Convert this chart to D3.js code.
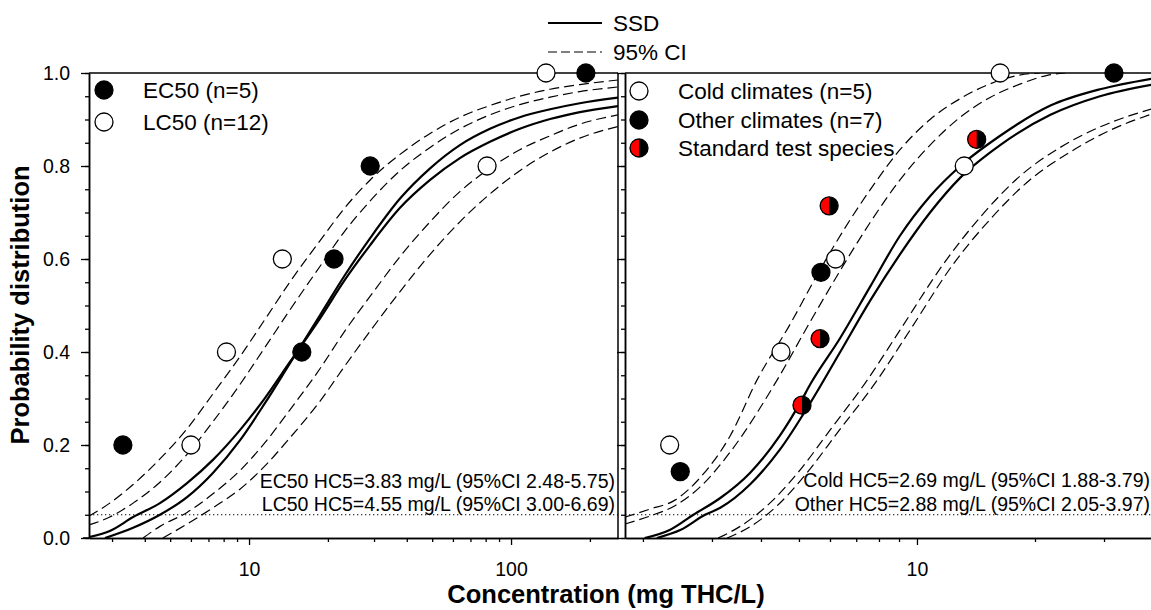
<!DOCTYPE html>
<html>
<head>
<meta charset="utf-8">
<script src="https://cdn.jsdelivr.net/npm/d3@7"></script>
<style>
body { margin: 0; background: #fff; }
text { font-family: "Liberation Sans", Arial, sans-serif; fill: #000; }
</style>
</head>
<body>
<svg id="chart" width="1151" height="610"></svg>
<script>
// ---- data (concentration mg/L, cumulative probability) ----
// left panel: EC50 vs LC50
var ec50Pts = [[3.3, 0.2], [15.9, 0.4], [21.1, 0.6], [29.0, 0.8], [193, 1.0]];
var lc50Pts = [[6.0, 0.2], [8.2, 0.4], [13.4, 0.6], [81, 0.8], [136, 1.0]];

var ec50SSD = [[2.45, 0.002], [2.94, 0.015], [3.61, 0.045], [4.57, 0.075], [5.8, 0.118], [7.28, 0.168],
  [9.23, 0.232], [11.5, 0.301], [14.3, 0.378], [18.7, 0.473], [23.2, 0.555], [29.0, 0.63], [37.7, 0.71],
  [49.1, 0.77], [63.8, 0.817], [83.1, 0.852], [108, 0.88], [141, 0.901], [183, 0.916], [256, 0.929]];
var lc50SSD = [[2.82, 0], [3.61, 0.022], [4.57, 0.05], [5.8, 0.088], [7.28, 0.14], [9.23, 0.21],
  [11.5, 0.29], [14.3, 0.375], [18.7, 0.48], [23.2, 0.565], [29.0, 0.645], [37.7, 0.73], [49.1, 0.795],
  [63.8, 0.845], [83.1, 0.88], [108, 0.905], [141, 0.922], [183, 0.935], [256, 0.947]];
var leftCiUpperA = [[2.45, 0.047], [2.94, 0.075], [3.61, 0.115], [4.57, 0.17], [5.8, 0.235], [7.28, 0.31],
  [9.23, 0.39], [11.5, 0.47], [14.3, 0.55], [18.7, 0.64], [23.2, 0.71], [29.0, 0.77], [37.7, 0.825],
  [49.1, 0.87], [63.8, 0.905], [83.1, 0.93], [108, 0.95], [141, 0.965], [183, 0.975], [256, 0.985]];
var leftCiUpperB = [[2.45, 0.028], [2.94, 0.045], [3.61, 0.075], [4.57, 0.12], [5.8, 0.18], [7.28, 0.25],
  [9.23, 0.33], [11.5, 0.41], [14.3, 0.49], [18.7, 0.585], [23.2, 0.66], [29.0, 0.725], [37.7, 0.79],
  [49.1, 0.84], [63.8, 0.88], [83.1, 0.91], [108, 0.932], [141, 0.948], [183, 0.96], [256, 0.97]];
var leftCiLowerA = [[3.94, 0], [4.57, 0.025], [5.8, 0.055], [7.28, 0.095], [9.23, 0.145], [11.5, 0.205],
  [14.3, 0.275], [18.7, 0.365], [23.2, 0.445], [29.0, 0.52], [37.7, 0.605], [49.1, 0.68], [63.8, 0.745],
  [83.1, 0.795], [108, 0.835], [141, 0.865], [183, 0.89], [256, 0.91]];
var leftCiLowerB = [[4.69, 0], [5.8, 0.03], [7.28, 0.065], [9.23, 0.105], [11.5, 0.155], [14.3, 0.215],
  [18.7, 0.295], [23.2, 0.37], [29.0, 0.445], [37.7, 0.53], [49.1, 0.61], [63.8, 0.68], [83.1, 0.74],
  [108, 0.79], [141, 0.83], [183, 0.86], [256, 0.885]];

// right panel: cold vs other climates
var coldPts = [[2.34, 0.2], [4.5, 0.4], [6.2, 0.6], [13.2, 0.8], [16.3, 1.0]];
var otherPts = [[2.49, 1 / 7], [5.09, 2 / 7], [5.66, 3 / 7], [5.69, 4 / 7], [5.97, 5 / 7], [14.2, 6 / 7], [31.8, 1.0]];
var standardSpecies = [false, true, true, false, true, true, false];

var coldSSD = [[2.02, 0], [2.34, 0.017], [2.69, 0.05], [3.15, 0.086], [3.75, 0.14], [4.47, 0.22],
  [5.03, 0.29], [5.34, 0.33], [6.37, 0.43], [7.59, 0.54], [9.05, 0.65], [10.8, 0.735], [12.9, 0.80],
  [16.3, 0.865], [21.9, 0.93], [29.3, 0.965], [39.8, 0.988]];
var otherSSD = [[2.17, 0], [2.49, 0.017], [2.88, 0.05], [3.15, 0.065], [3.75, 0.115], [4.47, 0.19],
  [5.34, 0.29], [6.37, 0.40], [7.59, 0.51], [9.05, 0.61], [10.8, 0.70], [12.9, 0.775], [16.3, 0.845],
  [21.9, 0.91], [29.3, 0.95], [39.8, 0.975]];
var rightCiUpperA = [[1.8, 0.045], [2.08, 0.062], [2.42, 0.082], [2.8, 0.13], [3.34, 0.22], [3.91, 0.34],
  [4.75, 0.46], [5.66, 0.577], [6.75, 0.684], [7.82, 0.764], [9.05, 0.835], [10.8, 0.9], [12.9, 0.945],
  [15.4, 0.977], [18.1, 0.995], [20.6, 1.0]];
var rightCiUpperB = [[1.8, 0.03], [2.08, 0.047], [2.42, 0.07], [2.8, 0.11], [3.34, 0.185], [4.4, 0.34],
  [5.34, 0.465], [6.37, 0.575], [7.59, 0.678], [9.05, 0.77], [10.8, 0.845], [12.9, 0.905], [15.4, 0.948],
  [18.3, 0.976], [21.5, 0.995], [23.9, 1.0]];
var rightCiLowerA = [[3.11, 0], [3.54, 0.025], [4.3, 0.082], [5.03, 0.146], [6.0, 0.232], [7.46, 0.339],
  [9.05, 0.447], [11.7, 0.59], [14.5, 0.69], [18.3, 0.778], [23.2, 0.84], [29.3, 0.884], [39.8, 0.923]];
var rightCiLowerB = [[3.28, 0], [3.75, 0.024], [4.42, 0.071], [5.18, 0.135], [6.29, 0.228], [7.91, 0.339],
  [9.6, 0.447], [12.4, 0.59], [15.4, 0.686], [19.4, 0.77], [24.6, 0.83], [31.1, 0.877], [39.8, 0.912]];

var leftMajor = [10, 100];
var leftMinor = [3, 4, 5, 6, 7, 8, 9, 20, 30, 40, 50, 60, 70, 80, 90, 200];
var rightMajor = [10];
var rightMinor = [2, 3, 4, 5, 6, 7, 8, 9, 20, 30];
var probTicks = [0, 0.2, 0.4, 0.6, 0.8, 1.0];
var probMinor = d3.range(0, 1.0001, 0.05);

var svg = d3.select("#chart");

var y = d3.scaleLinear().domain([0, 1]).range([538, 73]);
var xL = d3.scaleLog().domain([2.45, 256]).range([89, 618]);
var xR = d3.scaleLog().domain([1.8, 40]).range([625, 1153]);

var tickFont = "19.5px";

function drawPanel(x, id) {
    var r = x.range();
    var g = svg.append("g");
    g.append("clipPath").attr("id", id)
        .append("rect").attr("x", r[0]).attr("y", y(1)).attr("width", r[1] - r[0]).attr("height", y(0) - y(1));
    var inner = g.append("g").attr("clip-path", "url(#" + id + ")");
    // 5% line
    inner.append("line")
        .attr("x1", r[0]).attr("x2", r[1]).attr("y1", y(0.05)).attr("y2", y(0.05))
        .attr("stroke", "#000").attr("stroke-width", 1.2).attr("stroke-dasharray", "1.3,2.7");
    return {g: g, inner: inner};
}

var left = drawPanel(xL, "clipL");
var right = drawPanel(xR, "clipR");

function addCurve(panel, x, data, dashed) {
    var line = d3.line()
        .x(function(d) { return x(d[0]); })
        .y(function(d) { return y(d[1]); })
        .curve(d3.curveMonotoneX);
    panel.inner.append("path")
        .datum(data)
        .attr("d", line)
        .attr("fill", "none")
        .attr("stroke", "#000")
        .attr("stroke-width", dashed ? 1.2 : 2.2)
        .attr("stroke-dasharray", dashed ? "10,5" : null);
}

[leftCiUpperA, leftCiUpperB, leftCiLowerA, leftCiLowerB].forEach(function(c) { addCurve(left, xL, c, true); });
[ec50SSD, lc50SSD].forEach(function(c) { addCurve(left, xL, c, false); });
[rightCiUpperA, rightCiUpperB, rightCiLowerA, rightCiLowerB].forEach(function(c) { addCurve(right, xR, c, true); });
[coldSSD, otherSSD].forEach(function(c) { addCurve(right, xR, c, false); });

// frames
svg.append("line").attr("x1", 89).attr("x2", 618).attr("y1", y(1)).attr("y2", y(1)).attr("stroke", "#000").attr("stroke-width", 1.5);
svg.append("line").attr("x1", 618).attr("x2", 618).attr("y1", y(1)).attr("y2", y(0)).attr("stroke", "#000").attr("stroke-width", 1.5);
svg.append("line").attr("x1", 625).attr("x2", 1151).attr("y1", y(1)).attr("y2", y(1)).attr("stroke", "#000").attr("stroke-width", 1.5);

function styleAxis(sel) {
    sel.select(".domain").attr("stroke-width", 1.5);
    sel.selectAll(".tick line").attr("stroke-width", 1.3);
    sel.selectAll("text").style("font-size", tickFont).attr("fill", "#000");
}

// x axes
function xAxes(x, major, minor) {
    svg.append("g").attr("transform", "translate(0," + y(0) + ")")
        .call(d3.axisBottom(x).tickValues(minor).tickSize(4).tickFormat("").tickSizeOuter(0))
        .call(styleAxis);
    svg.append("g").attr("transform", "translate(0," + y(0) + ")")
        .call(d3.axisBottom(x).tickValues(major).tickSize(7).tickPadding(17).tickFormat(d3.format("d")).tickSizeOuter(0))
        .call(styleAxis);
}
xAxes(xL, leftMajor, leftMinor);
xAxes(xR, rightMajor, rightMinor);
svg.append("line").attr("x1", 83).attr("x2", 89).attr("y1", y(0)).attr("y2", y(0)).attr("stroke", "#000").attr("stroke-width", 1.5);

// y axes
function yAxes(xpos, labels) {
    svg.append("g").attr("transform", "translate(" + xpos + ",0)")
        .call(d3.axisLeft(y).tickValues(probMinor).tickSize(4).tickFormat("").tickSizeOuter(0))
        .call(styleAxis);
    svg.append("g").attr("transform", "translate(" + xpos + ",0)")
        .call(d3.axisLeft(y).tickValues(probTicks).tickSize(8).tickPadding(11)
            .tickFormat(labels ? d3.format(".1f") : "").tickSizeOuter(0))
        .call(styleAxis);
}
yAxes(89, true);
yAxes(625, false);

// points
function dot(parent, cx, cy, kind) {
    var rad = 9;
    var g = parent.append("g").attr("transform", "translate(" + cx + "," + cy + ")");
    if (kind === "half") {
        g.append("circle").attr("r", rad).attr("fill", "#000");
        g.append("path").attr("d", "M0," + (-rad) + "A" + rad + "," + rad + " 0 0 0 0," + rad + "Z").attr("fill", "#f00");
        g.append("circle").attr("r", rad).attr("fill", "none").attr("stroke", "#000").attr("stroke-width", 1.3);
    } else {
        g.append("circle").attr("r", rad)
            .attr("fill", kind === "open" ? "#fff" : "#000")
            .attr("stroke", "#000").attr("stroke-width", 1.3);
    }
}

ec50Pts.forEach(function(d) { dot(svg, xL(d[0]), y(d[1]), "filled"); });
lc50Pts.forEach(function(d) { dot(svg, xL(d[0]), y(d[1]), "open"); });
coldPts.forEach(function(d) { dot(svg, xR(d[0]), y(d[1]), "open"); });
otherPts.forEach(function(d, i) { dot(svg, xR(d[0]), y(d[1]), standardSpecies[i] ? "half" : "filled"); });

// legends
var legFont = "22.5px";
dot(svg, 104, 90, "filled");
dot(svg, 104, 122, "open");
svg.append("text").attr("x", 143).attr("y", 98).style("font-size", legFont).text("EC50 (n=5)");
svg.append("text").attr("x", 143).attr("y", 130).style("font-size", legFont).text("LC50 (n=12)");

dot(svg, 639, 91, "open");
dot(svg, 639, 120, "filled");
dot(svg, 639, 148, "half");
svg.append("text").attr("x", 678).attr("y", 99).style("font-size", legFont).text("Cold climates (n=5)");
svg.append("text").attr("x", 678).attr("y", 128).style("font-size", legFont).text("Other climates (n=7)");
svg.append("text").attr("x", 678).attr("y", 156).style("font-size", legFont).text("Standard test species");

svg.append("line").attr("x1", 548).attr("x2", 602).attr("y1", 23).attr("y2", 23).attr("stroke", "#000").attr("stroke-width", 2);
svg.append("line").attr("x1", 548).attr("x2", 602).attr("y1", 52).attr("y2", 52).attr("stroke", "#000").attr("stroke-width", 1.2).attr("stroke-dasharray", "9,4");
svg.append("text").attr("x", 613).attr("y", 31).style("font-size", legFont).text("SSD");
svg.append("text").attr("x", 613).attr("y", 60).style("font-size", legFont).text("95% CI");

// HC5 annotations
var noteFont = "19.5px";
svg.append("text").attr("x", 615).attr("y", 488).attr("text-anchor", "end").style("font-size", noteFont).text("EC50 HC5=3.83 mg/L (95%CI 2.48-5.75)");
svg.append("text").attr("x", 615).attr("y", 511).attr("text-anchor", "end").style("font-size", noteFont).text("LC50 HC5=4.55 mg/L (95%CI 3.00-6.69)");
svg.append("text").attr("x", 1150).attr("y", 487).attr("text-anchor", "end").style("font-size", noteFont).text("Cold HC5=2.69 mg/L (95%CI 1.88-3.79)");
svg.append("text").attr("x", 1150).attr("y", 511).attr("text-anchor", "end").style("font-size", noteFont).text("Other HC5=2.88 mg/L (95%CI 2.05-3.97)");

// axis titles
svg.append("text").attr("x", 606).attr("y", 603).attr("text-anchor", "middle")
    .style("font-size", "25.5px").style("font-weight", "bold").text("Concentration (mg THC/L)");
svg.append("text").attr("transform", "translate(29,305) rotate(-90)").attr("text-anchor", "middle")
    .style("font-size", "25.5px").style("font-weight", "bold").text("Probability distribution");
</script>
</body>
</html>
